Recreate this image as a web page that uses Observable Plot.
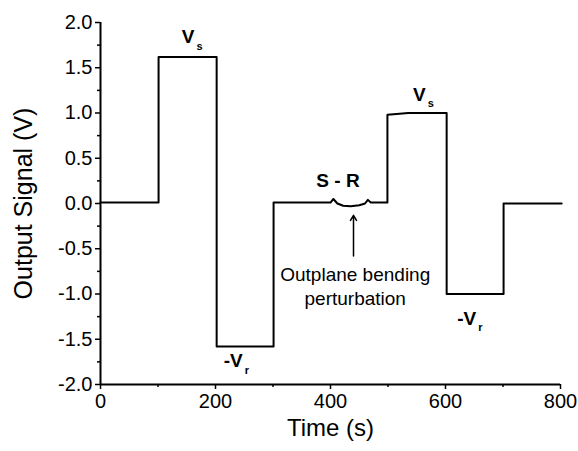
<!DOCTYPE html>
<html>
<head>
<meta charset="utf-8">
<script src="https://cdn.jsdelivr.net/npm/d3@7"></script>
<script src="https://cdn.jsdelivr.net/npm/@observablehq/plot@0.6"></script>
<style>
  html, body { margin: 0; padding: 0; background: white; }
</style>
</head>
<body>
<div id="chart"></div>
<script>
// Signal trace (time in s, output in V)
const time   = [0, 101, 101, 202, 202, 301, 301, 400, 405, 412, 422, 435, 450, 460, 465, 470, 499, 499, 515, 535, 602, 602, 701, 701, 802];
const signal = [0.01, 0.01, 1.62, 1.62, -1.58, -1.58, 0.01, 0.01, 0.05, 0.0, -0.025, -0.03, -0.02, 0.0, 0.04, 0.01, 0.01, 0.98, 0.99, 1.0, 1.0, -1.0, -1.0, 0.0, 0.0];

// Axis ticks
const xMajor = [0, 200, 400, 600, 800];
const xMinor = [100, 300, 500, 700];
const yMajor = [-2, -1.5, -1, -0.5, 0, 0.5, 1, 1.5, 2];
const yMinor = [-1.75, -1.25, -0.75, -0.25, 0.25, 0.75, 1.25, 1.75];

// Level labels (V with subscript)
const levelMain = ["V", "V", "-V", "-V"];
const levelSub  = ["s", "s", "r", "r"];
const levelX    = [153, 555, 237, 643];
const levelY    = [1.84, 1.2, -1.74, -1.27];

// Annotation
const srLabel = "S - R";
const srX = 413, srY = 0.25;
const noteLines = ["Outplane bending", "perturbation"];
const noteX = 443, noteY = [-0.79, -1.05];
const arrowX = 440, arrowFrom = -0.58, arrowTo = -0.13;

const trace = time.map((t, i) => ({t, v: signal[i]}));
const levels = levelMain.map((m, i) => ({m, s: levelSub[i], x: levelX[i], y: levelY[i]}));
const notes = noteLines.map((s, i) => ({s, x: noteX, y: noteY[i]}));

const chart = Plot.plot({
  width: 578,
  height: 451,
  marginLeft: 100,
  marginRight: 18,
  marginTop: 22,
  marginBottom: 67,
  style: {fontFamily: "'Liberation Sans', Arial, sans-serif", background: "white", color: "black"},
  x: {domain: [0, 800]},
  y: {domain: [-2, 2]},
  marks: [
    Plot.axisY({ticks: yMajor, tickSize: 5, tickPadding: 3, tickFormat: d => d.toFixed(1), fontSize: 20, label: null, strokeWidth: 1.5}),
    Plot.axisY({ticks: yMinor, tickSize: 3, tickFormat: () => "", label: null, strokeWidth: 1.5}),
    Plot.axisX({ticks: xMajor, tickSize: 5, tickPadding: 4, fontSize: 20, label: null, strokeWidth: 1.5}),
    Plot.axisX({ticks: xMinor, tickSize: 3, tickFormat: () => "", label: null, strokeWidth: 1.5}),
    Plot.ruleX([0], {stroke: "black", strokeWidth: 2}),
    Plot.ruleY([-2], {stroke: "black", strokeWidth: 2}),
    Plot.line(trace, {x: "t", y: "v", stroke: "black", strokeWidth: 2}),
    Plot.text(levels, {x: "x", y: "y", text: "m", fontSize: 19, fontWeight: "bold", textAnchor: "end", dx: 6}),
    Plot.text(levels, {x: "x", y: "y", text: "s", fontSize: 11, fontWeight: "bold", textAnchor: "start", dx: 8, dy: 9}),
    Plot.text([srLabel], {x: srX, y: srY, fontSize: 19, fontWeight: "bold"}),
    Plot.text(notes, {x: "x", y: "y", text: "s", fontSize: 19}),
    Plot.arrow([0], {x1: arrowX, x2: arrowX, y1: arrowFrom, y2: arrowTo, stroke: "black", strokeWidth: 1.5, headLength: 6}),
    Plot.text(["Output Signal (V)"], {frameAnchor: "left", textAnchor: "middle", dx: -77, rotate: -90, fontSize: 25}),
    Plot.text(["Time (s)"], {frameAnchor: "bottom", dy: 51, fontSize: 24})
  ]
});
document.getElementById("chart").appendChild(chart);
</script>
</body>
</html>
